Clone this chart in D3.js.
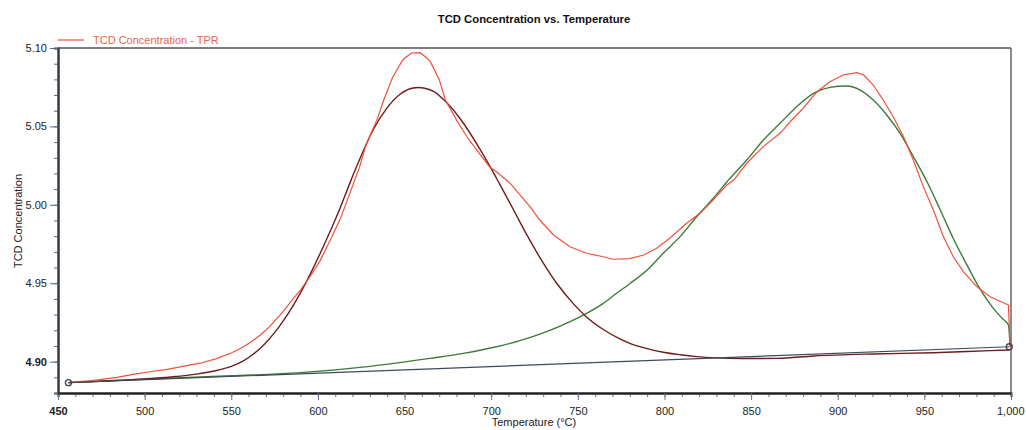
<!DOCTYPE html>
<html>
<head>
<meta charset="utf-8">
<script src="https://cdn.jsdelivr.net/npm/d3@7"></script>
<style>
  html, body { margin: 0; padding: 0; background: #fff; }
  svg { display: block; font-family: "Liberation Sans", Arial, sans-serif; }
</style>
</head>
<body>
<svg id="chart" width="1026" height="430"></svg>
<script>
// TPR signal (measured TCD concentration)
const tprTemp = [456, 462, 468, 474, 484, 494, 504, 513, 522, 532, 541, 550, 556, 561, 567, 572, 580, 586, 590, 595,
  601, 607, 613, 618, 624, 628, 634, 638, 643, 649, 654, 659, 663, 665, 670, 673.5, 680, 686, 691.6, 699,
  703, 711, 716.6, 722.4, 728, 736, 745.5, 755, 764.7, 770.5, 780, 788, 795.5, 803, 812.8, 820.5, 828.2, 836, 840, 847.5,
  857, 866.7, 874.4, 880, 888, 895.5, 903, 911, 915, 920.5, 926.3, 932, 938, 943.6, 949.4, 955.2, 961, 966.7, 972.5, 980.2,
  988, 998.5, 999.5];
const tprSignal = [4.8866, 4.8872, 4.8878, 4.8885, 4.8900, 4.8920, 4.8937, 4.8951, 4.8970, 4.8990, 4.9018, 4.9055, 4.9088, 4.9122, 4.9172, 4.9222, 4.9320, 4.9405, 4.9457, 4.9535,
  4.9638, 4.9772, 4.9912, 5.0060, 5.0240, 5.0390, 5.0540, 5.0668, 5.0810, 5.0925, 5.0968, 5.0970, 5.0935, 5.0910, 5.0800, 5.0670, 5.0540, 5.0434, 5.0350, 5.0243,
  5.0211, 5.0137, 5.0063, 4.9988, 4.9903, 4.9808, 4.9733, 4.9691, 4.9669, 4.9653, 4.9657, 4.9680, 4.9723, 4.9787, 4.9882, 4.9946, 5.0031, 5.0126, 5.0158, 5.0265,
  5.0371, 5.0456, 5.0552, 5.0615, 5.0721, 5.0785, 5.0828, 5.0843, 5.0828, 5.0764, 5.0668, 5.0562, 5.0434, 5.0286, 5.0116, 4.9967, 4.9797, 4.9669, 4.9574, 4.9478,
  4.9414, 4.9361, 4.9094];

// First fitted peak (low temperature)
const peak1Temp = [456, 480, 500, 515, 530, 540, 550, 557, 563, 569, 575, 580, 585, 590, 597, 605, 613, 618.5, 624.3, 632,
  639.7, 647.4, 655, 658, 661, 667, 674, 684, 693.5, 699.3, 705, 712.8, 720.5, 730, 737.8, 747.4, 755, 764.7, 774.3, 780,
  790, 799.3, 809, 818.6, 830, 845, 865, 886, 920, 955, 988, 999];
const peak1Signal = [4.8866, 4.8878, 4.8890, 4.8902, 4.8920, 4.8940, 4.8970, 4.9005, 4.9050, 4.9110, 4.9185, 4.9260, 4.9345, 4.9440, 4.9590, 4.9780, 4.9985, 5.0140, 5.0295, 5.0480,
  5.0615, 5.0705, 5.0745, 5.0748, 5.0745, 5.0722, 5.0655, 5.0520, 5.0355, 5.0245, 5.0130, 4.9970, 4.9810, 4.9630, 4.9500, 4.9370, 4.9285, 4.9205, 4.9145, 4.9117,
  4.9083, 4.9060, 4.9044, 4.9032, 4.9024, 4.9020, 4.9021, 4.9036, 4.9049, 4.9057, 4.9070, 4.9074];

// Second fitted peak (high temperature)
const peak2Temp = [456, 500, 550, 590, 630, 664.7, 684, 703, 716.6, 732, 745.5, 755, 764.7, 772.4, 780, 790, 799.3, 809, 818.6, 828.2,
  837.8, 847.5, 857.1, 866.7, 876.3, 886, 895.5, 905, 913, 920.5, 928.3, 936, 943.6, 951.4, 959, 966.7, 974.4, 982, 989.8, 995,
  998.5, 999.5];
const peak2Signal = [4.8866, 4.8888, 4.8910, 4.8930, 4.8970, 4.9021, 4.9053, 4.9095, 4.9134, 4.9191, 4.9255, 4.9308, 4.9372, 4.9436, 4.9497, 4.9584, 4.9691, 4.9797, 4.9924, 5.0042,
  5.0169, 5.0286, 5.0413, 5.0520, 5.0626, 5.0711, 5.0749, 5.0758, 5.0732, 5.0668, 5.0573, 5.0456, 5.0308, 5.0150, 4.9972, 4.9785, 4.9620, 4.9465, 4.9340, 4.9275,
  4.9234, 4.9094];

// Linear baseline between the two anchor points
const baselineTemp = [456, 999];
const baselineSignal = [4.8866, 4.9095];

// Axis ticks
const xMajorTicks = [450, 500, 550, 600, 650, 700, 750, 800, 850, 900, 950, 1000];
const xMinorTicks = d3.range(450, 1001, 10);
const yMajorTicks = [4.90, 4.95, 5.00, 5.05, 5.10];
const yMinorTicks = d3.range(4.88, 5.1001, 0.01).map(v => +v.toFixed(2));

const svg = d3.select("#chart");
const plotLeft = 58, plotRight = 1011, plotTop = 48, plotBottom = 393;

const x = d3.scaleLinear().domain([450, 1000]).range([plotLeft, plotRight]);
const y = d3.scaleLinear().domain([4.88, 5.10]).range([plotBottom, plotTop]);

const pairs = (ts, vs) => ts.map((t, i) => [t, vs[i]]);
const line = d3.line().x(d => x(d[0])).y(d => y(d[1]));

// Title
svg.append("text").attr("x", 534).attr("y", 23).attr("text-anchor", "middle")
  .attr("font-size", 11.3).attr("font-weight", "bold").attr("fill", "#111")
  .text("TCD Concentration vs. Temperature");

// Legend
svg.append("line").attr("x1", 58).attr("x2", 84).attr("y1", 40).attr("y2", 40)
  .attr("stroke", "#f0503c").attr("stroke-width", 1.2);
svg.append("text").attr("x", 93).attr("y", 44).attr("font-size", 11).attr("fill", "#f0604c")
  .text("TCD Concentration - TPR");

// Frame (top and right)
svg.append("line").attr("x1", plotLeft).attr("x2", plotRight).attr("y1", plotTop).attr("y2", plotTop)
  .attr("stroke", "#555").attr("stroke-width", 1.5);
svg.append("line").attr("x1", plotRight).attr("x2", plotRight).attr("y1", plotTop).attr("y2", plotBottom)
  .attr("stroke", "#666").attr("stroke-width", 1.5);

// X axis
const xMinor = svg.append("g").attr("transform", `translate(0,${plotBottom})`)
  .call(d3.axisBottom(x).tickValues(xMinorTicks).tickSize(4).tickFormat(""));
const xAxis = svg.append("g").attr("transform", `translate(0,${plotBottom})`)
  .call(d3.axisBottom(x).tickValues(xMajorTicks).tickSize(7).tickSizeOuter(0).tickFormat(d3.format(",")));
[xMinor, xAxis].forEach(g => {
  g.select(".domain").attr("stroke", "#222").attr("stroke-width", 2);
  g.selectAll(".tick line").attr("stroke", "#6a7385");
});
xAxis.selectAll(".tick text").attr("font-size", 11).attr("fill", "#222").attr("dy", "1.05em")
  .attr("font-family", "Liberation Sans, Arial, sans-serif")
  .attr("font-weight", d => d === 450 ? "bold" : "normal");
// keep the last label inside the page
xAxis.selectAll(".tick text").filter(d => d === 1000)
  .attr("text-anchor", "end").attr("dx", 13);

// Y axis
const yMinor = svg.append("g").attr("transform", `translate(${plotLeft},0)`)
  .call(d3.axisLeft(y).tickValues(yMinorTicks).tickSize(4).tickFormat(""));
const yAxis = svg.append("g").attr("transform", `translate(${plotLeft},0)`)
  .call(d3.axisLeft(y).tickValues(yMajorTicks).tickSize(8).tickSizeOuter(0).tickFormat(d3.format(".2f")));
[yMinor, yAxis].forEach(g => {
  g.select(".domain").attr("stroke", "#333a48").attr("stroke-width", 2);
  g.selectAll(".tick line").attr("stroke", "#5d6880");
});
yAxis.selectAll(".tick text").attr("font-size", 11).attr("fill", "#222")
  .attr("font-family", "Liberation Sans, Arial, sans-serif")
  .attr("font-weight", d => d === 4.90 ? "bold" : "normal");

// Axis titles
svg.append("text").attr("x", 534).attr("y", 426).attr("text-anchor", "middle")
  .attr("font-size", 11).attr("fill", "#222").text("Temperature (°C)");
svg.append("text").attr("transform", "translate(22,221) rotate(-90)").attr("text-anchor", "middle")
  .attr("font-size", 11).attr("fill", "#222").text("TCD Concentration");

// Fitted peaks
svg.append("path").datum(pairs(peak2Temp, peak2Signal)).attr("d", line.curve(d3.curveMonotoneX))
  .attr("fill", "none").attr("stroke", "#3f7a3a").attr("stroke-width", 1.4);
svg.append("path").datum(pairs(peak1Temp, peak1Signal)).attr("d", line.curve(d3.curveMonotoneX))
  .attr("fill", "none").attr("stroke", "#6e1c1c").attr("stroke-width", 1.4);

// Measured signal
svg.append("path").datum(pairs(tprTemp, tprSignal)).attr("d", line.curve(d3.curveLinear))
  .attr("fill", "none").attr("stroke", "#f0503c").attr("stroke-width", 1.2);

// Baseline with anchor markers
const base = pairs(baselineTemp, baselineSignal);
svg.append("path").datum(base).attr("d", line.curve(d3.curveLinear))
  .attr("fill", "none").attr("stroke", "#3e4a5c").attr("stroke-width", 1.2);
svg.selectAll("circle.anchor").data(base).enter().append("circle").attr("class", "anchor")
  .attr("cx", d => x(d[0])).attr("cy", d => y(d[1])).attr("r", 3)
  .attr("fill", "none").attr("stroke", "#3a4252").attr("stroke-width", 1.3);
</script>
</body>
</html>
